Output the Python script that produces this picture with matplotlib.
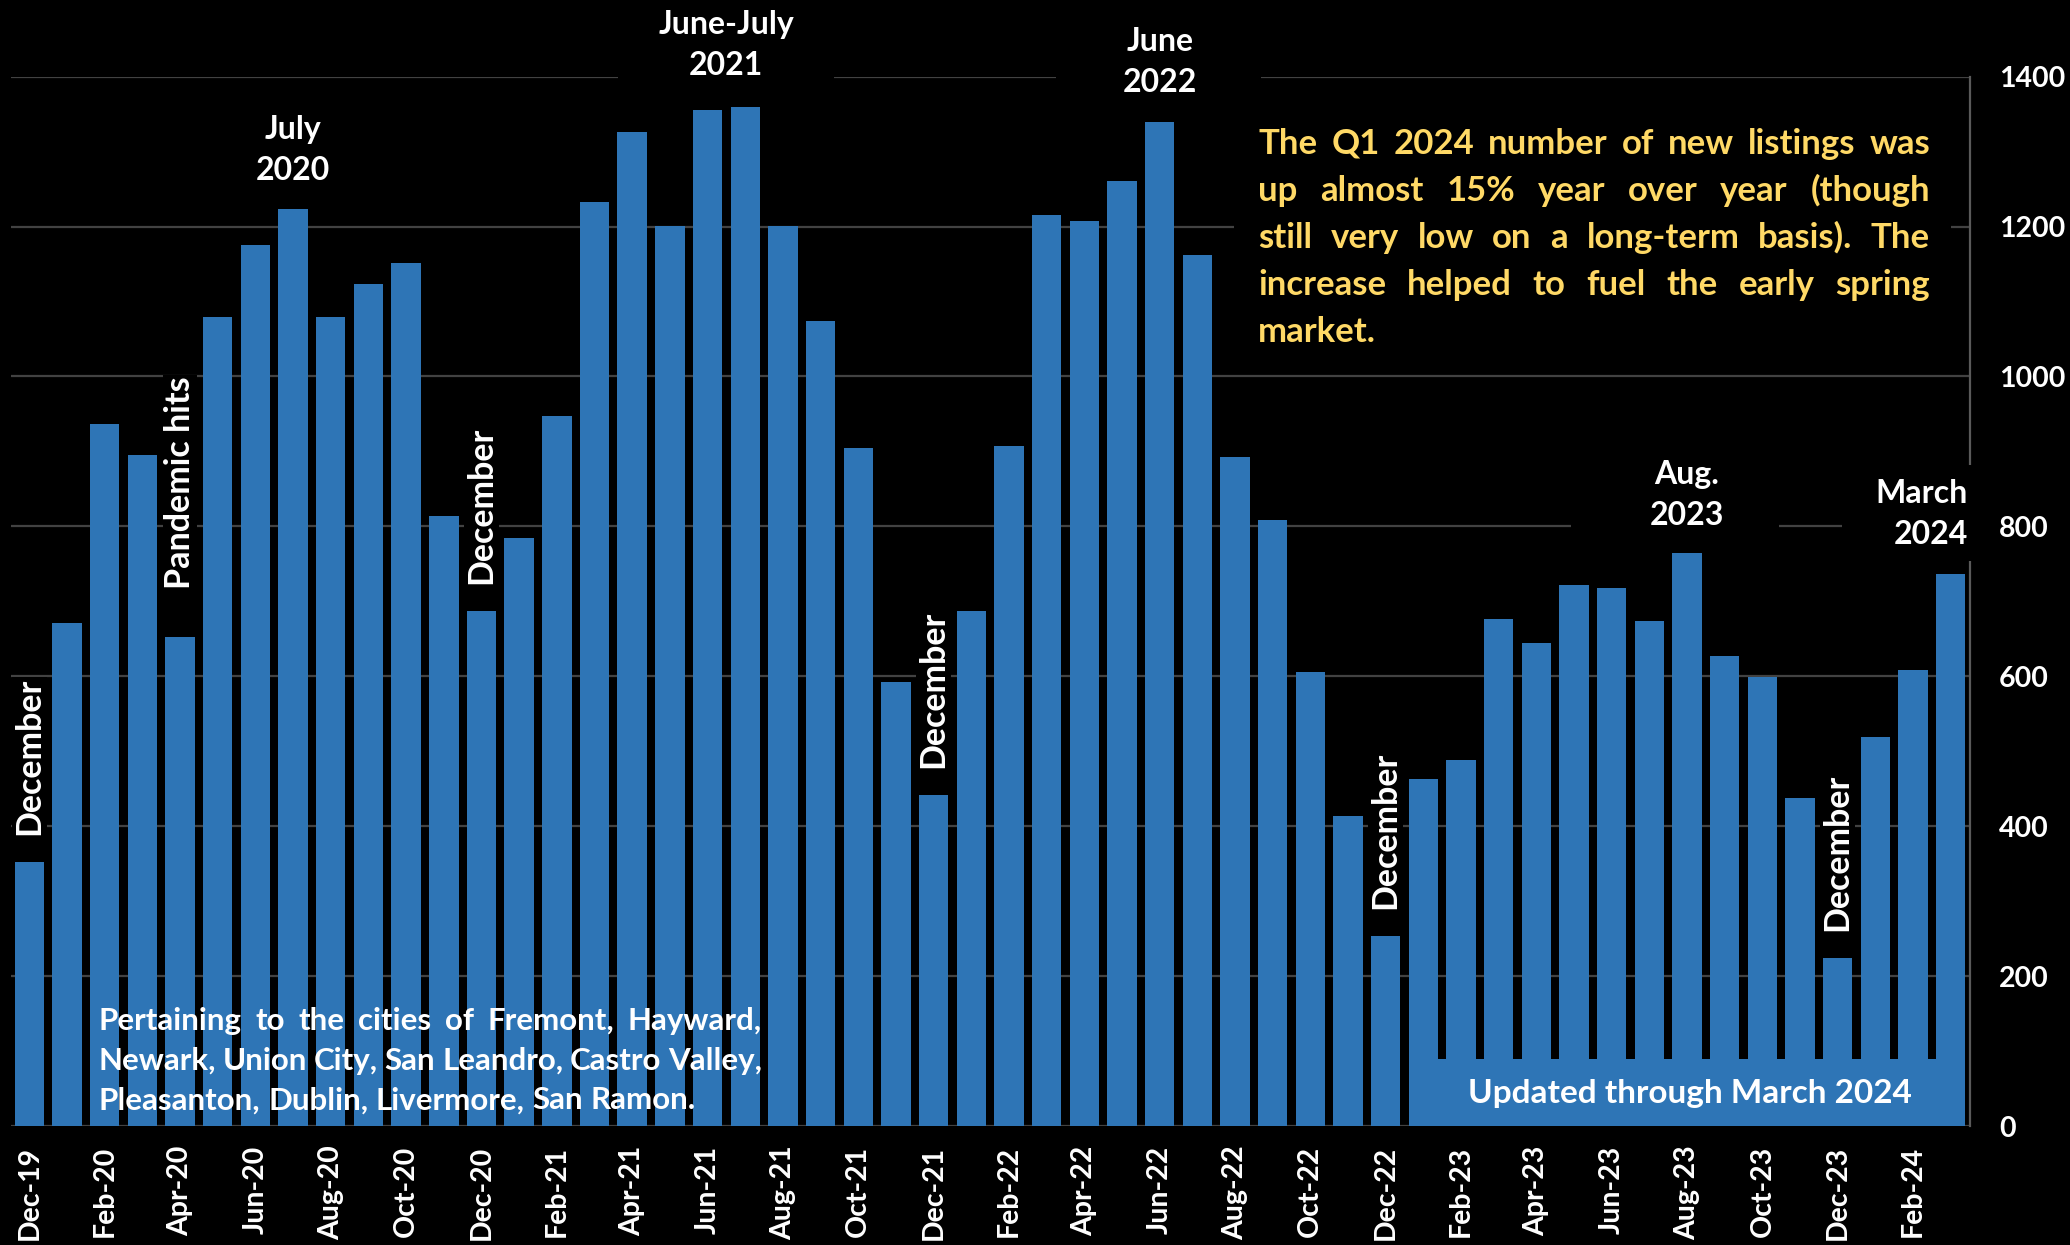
import matplotlib
matplotlib.use("Agg")
import matplotlib.pyplot as plt
from matplotlib.patches import Rectangle
import pandas as pd

plt.rcParams['font.family'] = ['Lato', 'DejaVu Sans']

# Monthly new listings, Dec 2019 - Mar 2024
months = list(pd.date_range("2019-12-01", periods=52, freq="MS").strftime("%b-%y"))
new_listings = [
    352, 671, 937, 895, 653, 1079, 1176, 1224, 1079, 1123, 1152, 814, 687,
    785, 947, 1233, 1326, 1201, 1356, 1359, 1201, 1074, 905, 593, 442,
    687, 907, 1215, 1208, 1261, 1340, 1162, 893, 808, 606, 414, 254,
    463, 488, 676, 644, 722, 718, 674, 764, 627, 599, 438, 224,
    519, 609, 736,
]
yticks = [0, 200, 400, 600, 800, 1000, 1200, 1400]

BLUE = "#2E75B6"
GOLD = "#FFD966"
GRID = "#424242"

fig = plt.figure(figsize=(20.7, 12.45), dpi=100, facecolor="black")
ax = fig.add_axes([0.0051, 0.0954, 0.9464, 0.8431], facecolor="black")

x = list(range(len(months)))
ax.bar(x, new_listings, width=0.78, color=BLUE, zorder=2)

ax.set_xlim(-0.5, len(months) - 0.5)
ax.set_ylim(0, 1400)
ax.set_yticks(yticks)
ax.yaxis.grid(True, color=GRID, lw=1.6)
ax.set_axisbelow(True)
for side in ("left", "top", "bottom"):
    ax.spines[side].set_visible(False)
ax.spines["right"].set_color("#5a5a5a")
ax.spines["right"].set_linewidth(1.6)

ax.yaxis.tick_right()
ax.tick_params(axis="y", length=0, pad=21, labelsize=20.5, labelcolor="white")
ax.set_xticks(x[::2])
ax.set_xticklabels(months[::2], rotation=90)
ax.tick_params(axis="x", length=0, pad=14, labelsize=20.5, labelcolor="white")
for lab in ax.get_xticklabels() + ax.get_yticklabels():
    lab.set_fontweight("bold")

# black boxes that interrupt the gridlines behind the call-outs
for (x0, x1, y0, y1) in [(15.62, 21.36, 1375, 1520), (27.25, 32.68, 1352, 1520),
                         (40.92, 46.45, 777, 903), (48.1, 51.9, 754, 882),
                         (31.98, 51.0, 1027, 1361)]:
    ax.add_patch(Rectangle((x0, y0), x1 - x0, y1 - y0, facecolor="black",
                           edgecolor="none", zorder=3, clip_on=False))

lab_kw = dict(color="white", fontsize=23, fontweight="bold", zorder=4,
              clip_on=False, linespacing=1.5)
ax.text(7, 1302, "July\n2020", ha="center", va="center", **lab_kw)
ax.text(18.5, 1442, "June-July\n2021", ha="center", va="center", **lab_kw)
ax.text(30, 1420, "June\n2022", ha="center", va="center", **lab_kw)
ax.text(44, 842, "Aug.\n2023", ha="center", va="center", **lab_kw)
ax.text(51.46, 816, "March\n2024", ha="right", va="center", multialignment="right", **lab_kw)

rot_kw = dict(color="white", fontsize=24.5, fontweight="bold", zorder=4,
              clip_on=False, rotation=90, ha="center", va="bottom",
              bbox=dict(facecolor="black", edgecolor="none", pad=1))
ax.text(4, 716, "Pandemic hits", **rot_kw)
for i in (0, 12, 24, 36, 48):
    ax.text(i, new_listings[i] + 36, "December", **rot_kw)

# footer box
ax.add_patch(Rectangle((36.61, 0), 51.39 - 36.61, 90, facecolor=BLUE,
                       edgecolor="none", zorder=3))
ax.text(44.07, 44, "Updated through March 2024", ha="center", va="center",
        color="white", fontsize=24, fontweight="bold", zorder=4)


def justified(lines, x0, x1, y, dy, **kw):
    renderer = fig.canvas.get_renderer()
    W = fig.bbox.width
    probe_a = fig.text(0, 0, "x x", **kw)
    probe_b = fig.text(0, 0, "xx", **kw)
    space = (probe_a.get_window_extent(renderer).width
             - probe_b.get_window_extent(renderer).width) / W
    probe_a.remove()
    probe_b.remove()
    for k, line in enumerate(lines):
        words = line.split()
        items = [fig.text(0, y - k * dy, w, ha="left", va="baseline", **kw) for w in words]
        widths = [t.get_window_extent(renderer).width / W for t in items]
        last = k == len(lines) - 1
        gap = space if last or len(words) < 2 else (x1 - x0 - sum(widths)) / (len(words) - 1)
        pos = x0
        for t, w in zip(items, widths):
            t.set_x(pos)
            pos += w + gap


summary = [
    "The Q1 2024 number of new listings was",
    "up almost 15% year over year (though",
    "still very low on a long-term basis). The",
    "increase helped to fuel the early spring",
    "market.",
]
justified(summary, 0.6078, 0.9324, 0.8767, 0.0379,
          color=GOLD, fontsize=25, fontweight="bold", zorder=5)

cities = [
    "Pertaining to the cities of Fremont, Hayward,",
    "Newark, Union City, San Leandro, Castro Valley,",
    "Pleasanton, Dublin, Livermore, San Ramon.",
]
justified(cities, 0.0478, 0.368, 0.1727, 0.0318,
          color="white", fontsize=22.5, fontweight="bold", zorder=5)

fig.savefig("out.png", dpi=100, facecolor="black")
